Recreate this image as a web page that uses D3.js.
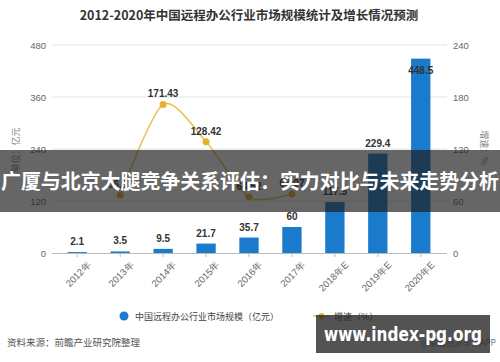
<!DOCTYPE html>
<html><head><meta charset="utf-8">
<script src="https://cdn.jsdelivr.net/npm/d3@7"></script>
<style>body{margin:0;background:#fff;}svg{display:block;font-family:"Noto Sans CJK SC","Noto Sans",sans-serif;}</style>
</head><body><svg id="c" width="500" height="362"></svg>
<script>
const categories = ["2012年","2013年","2014年","2015年","2016年","2017年","2018年E","2019年E","2020年E"];
const marketSize = [2.1,3.5,9.5,21.7,35.7,60,117.5,229.4,448.5];
const growth = [null,66.67,171.43,128.42,64.52,68.07,null,null,null];
const leftTicks = [0,120,240,360,480];
const rightTicks = [0,60,120,180,240];
const title = "2012-2020年中国远程办公行业市场规模统计及增长情况预测";
const banner = "广厦与北京大腿竞争关系评估：实力对比与未来走势分析";

const svg = d3.select("#c");
const pL = 52, pR = 447, pT = 45, pB = 253;
const x = d3.scaleBand().domain(categories).range([59, 439]).paddingInner(0.55).paddingOuter(0.2);
const yL = d3.scaleLinear().domain([0,480]).range([pB, pT]);
const yR = d3.scaleLinear().domain([0,240]).range([pB, pT]);

svg.append("text").attr("x",249).attr("y",20).attr("text-anchor","middle")
  .attr("font-size",12.5).attr("font-weight","bold").attr("fill","#333").text(title);

// grid
svg.append("g").selectAll("line").data(leftTicks.slice(1)).join("line")
  .attr("x1",pL).attr("x2",pR).attr("y1",d=>yL(d)).attr("y2",d=>yL(d))
  .attr("stroke","#e3e3e3").attr("stroke-width",1);

// axes
const gL = svg.append("g").attr("transform",`translate(${pL},0)`)
  .call(d3.axisLeft(yL).tickValues(leftTicks).tickSize(0).tickPadding(6));
gL.select(".domain").remove();
gL.selectAll("text").attr("font-size",9.5).attr("fill","#666").attr("font-family","Liberation Sans, Arial, sans-serif");
const gR = svg.append("g").attr("transform",`translate(${pR},0)`)
  .call(d3.axisRight(yR).tickValues(rightTicks).tickSize(0).tickPadding(6));
gR.select(".domain").remove();
gR.selectAll("text").attr("font-size",9.5).attr("fill","#666").attr("font-family","Liberation Sans, Arial, sans-serif");

svg.append("text").attr("transform","translate(19,150) rotate(-90)").attr("text-anchor","middle")
  .attr("font-size",9).attr("fill","#888").text("单位：亿元");
svg.append("text").attr("transform","translate(481,148) rotate(90)").attr("text-anchor","middle")
  .attr("font-size",9).attr("fill","#888").text("增速：%");

// x axis
const gX = svg.append("g").attr("transform",`translate(0,${pB})`)
  .call(d3.axisBottom(x).tickSize(4).tickPadding(4));
gX.select(".domain").attr("d",`M${pL},0.5H${pR}`).attr("stroke","#bbb");
gX.selectAll(".tick line").attr("stroke","#bbb");
gX.selectAll("text").attr("font-size",9.5).attr("fill","#666")
  .attr("text-anchor","end").attr("transform","translate(4,2) rotate(-45)");

// bars
svg.append("g").selectAll("rect").data(marketSize).join("rect")
  .attr("x",(d,i)=>x(categories[i])).attr("width",x.bandwidth())
  .attr("y",d=>yL(d)).attr("height",d=>pB-yL(d)).attr("fill","#1a7acb");
svg.append("g").selectAll("text").data(marketSize).join("text")
  .attr("x",(d,i)=>x(categories[i])+x.bandwidth()/2)
  .attr("y",d=>yL(d)-7 < pT+20 ? yL(d)+15 : yL(d)-7)
  .attr("text-anchor","middle").attr("font-size",10).attr("font-weight","bold").attr("fill","#333")
  .attr("font-family","Liberation Sans, Arial, sans-serif").text(d=>d);

// line
const pts = growth.map((g,i)=>({g,c:categories[i]})).filter(d=>d.g!==null);
const line = d3.line().x(d=>x(d.c)+x.bandwidth()/2).y(d=>yR(d.g)).curve(d3.curveCardinal.tension(0.2));
svg.append("path").datum(pts).attr("d",line).attr("fill","none").attr("stroke","#e6c45a").attr("stroke-width",1.6);
svg.append("g").selectAll("circle").data(pts).join("circle")
  .attr("cx",d=>x(d.c)+x.bandwidth()/2).attr("cy",d=>yR(d.g)).attr("r",3.5).attr("fill","#e2b232");
svg.append("g").selectAll("text").data(pts).join("text")
  .attr("x",d=>x(d.c)+x.bandwidth()/2).attr("y",d=>yR(d.g)-7)
  .attr("text-anchor","middle").attr("font-size",10).attr("font-weight","bold").attr("fill","#333")
  .attr("font-family","Liberation Sans, Arial, sans-serif").text(d=>d.g.toFixed(2));

// legend
svg.append("circle").attr("cx",124).attr("cy",316).attr("r",4.5).attr("fill","#1a7acb");
svg.append("text").attr("x",135).attr("y",319.5).attr("font-size",9).attr("fill","#444").text("中国远程办公行业市场规模（亿元）");
svg.append("line").attr("x1",313).attr("x2",330).attr("y1",316).attr("y2",316).attr("stroke","#e6c45a").attr("stroke-width",1.6);
svg.append("circle").attr("cx",321.5).attr("cy",316).attr("r",3).attr("fill","#e2b232");
svg.append("text").attr("x",334).attr("y",319.5).attr("font-size",9).attr("fill","#444").text("增速（%）");

svg.append("text").attr("x",7).attr("y",346).attr("font-size",9.5).attr("fill","#555").text("资料来源：前瞻产业研究院整理");
svg.append("text").attr("x",496).attr("y",346).attr("text-anchor","end").attr("font-size",8.5).attr("fill","#777").text("@前瞻经济学人APP");

// overlay banner
svg.append("rect").attr("x",0).attr("y",150).attr("width",500).attr("height",62).attr("fill","rgba(30,30,30,0.68)");
svg.append("text").attr("x",250).attr("y",189).attr("text-anchor","middle").attr("font-size",20).attr("font-weight","bold")
  .attr("fill","#fff").attr("textLength",498).attr("lengthAdjust","spacingAndGlyphs").text(banner);

// watermark box
svg.append("rect").attr("x",316).attr("y",315).attr("width",174).attr("height",38).attr("fill","rgba(40,40,40,0.8)");
svg.append("text").attr("x",403).attr("y",341).attr("text-anchor","middle").attr("font-size",19).attr("font-weight","bold")
  .attr("fill","#fff").attr("font-family","DejaVu Sans, sans-serif").attr("textLength",158).attr("lengthAdjust","spacingAndGlyphs").text("www.index-pg.org");
</script></body></html>
